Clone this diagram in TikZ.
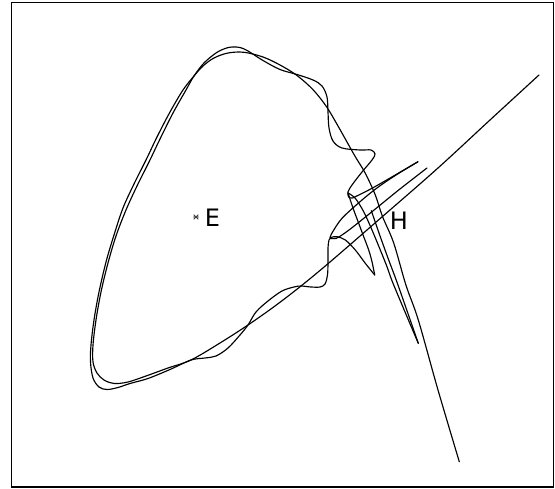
\documentclass[tikz,border=0pt]{standalone}
\usepackage{fontspec}
\usetikzlibrary{calc}
\newfontfamily\lblfont{DejaVu Sans}
\begin{document}
\begin{tikzpicture}[x=1pt,y=-1pt,
  manifold/.style={line width=1.15pt,line cap=round,line join=round},
  lbl/.style={font=\lblfont\fontsize{24}{24}\selectfont,inner sep=0pt},
  frame/.style={line width=1.8pt}]
\useasboundingbox (0,0) rectangle (555,489);
\draw[frame] (11.5,2.5) rectangle (553.5,487);
% marks
\coordinate (Hpt) at (382.5,216.5);
\coordinate (Ept) at (196,217);
\draw[line width=0.9pt,black!75] ($(Ept)+(-2.3,-2.3)$) -- ($(Ept)+(2.3,2.3)$)
  ($(Ept)+(-2.3,2.3)$) -- ($(Ept)+(2.3,-2.3)$) ($(Ept)+(-2.8,0)$) -- ($(Ept)+(2.8,0)$);
\node[lbl] (Elbl) at (212.5,218) {E};
\node[lbl] (Hlbl) at (399,221) {H};
% unstable manifold
\draw[manifold] plot[smooth,tension=0.55] coordinates {
 (539,75) (490,120) (438,168) (382.5,216.5) (330,262) (301,286) (275,306) (248,325) (220,343) (191,360)
 (168,368) (146,376) (128,382) (114,383.5) (104,380) (97,373) (93,362) (93,345) (96,320) (101,292)
 (108,263) (116,236) (126,210) (137,186) (149,162) (160,139) (173,113) (186,90) (194,76) (204,63)
 (216,53) (225,48.5) (232,47) (240,47.5) (248,51) (263,60.5) (280,69.5) (297,74.5) (313,80) (322,86)
 (327,97) (328,112) (329,128) (333,141) (342,148) (360,150) (371,150) (375,154) (372,160) (362,172)
 (352,185) (348,192) (348.7,197) (352,198) (355.3,196.7) (372,188.3) (395.3,175) (418,161.7)};
\draw[manifold] plot[smooth,tension=0.5] coordinates {
 (418,161.7) (398.7,173.3) (378.7,186.7) (362,200) (342,218.3) (332,233) (330,238)};
\draw[manifold] plot[smooth,tension=0.5] coordinates {
 (330,238) (336,238.5) (349,230) (372,211.7) (398.7,190) (427,168)};
% stable manifold
\draw[manifold] plot[smooth,tension=0.55] coordinates {
 (459.3,461.7) (438,390) (418.3,320) (405.9,285) (393.7,243) (382.5,216.5) (375.3,195) (365.3,173.3)
 (355.3,156.7) (347,142) (338,126) (326.7,107) (313.3,90) (297,75.5) (280,65) (263,57) (244,52.3)
 (228,53) (214,58) (203,66) (194,76) (183,90) (170,112) (157,137) (146,160) (134,184) (123,208)
 (114,235) (106,262) (99,292) (94,320) (91,345) (90.5,362) (93,378) (99,387) (107,389.5) (118,387.5)
 (130,383.5) (148,378.5) (170,369.5) (191,360) (205,358) (216,356) (228,348) (240,335) (248,325)
 (256,312) (268,301) (282,291) (294,287) (301,286) (311,287) (320,287) (325,284) (327.5,275)
 (328,262) (328,248) (329,240) (331,237.5) (337,236.7) (345.3,240) (355.3,250) (365.3,263.3) (374.7,275)};
\draw[manifold] plot[smooth,tension=0.5] coordinates {
 (374.7,275) (372,261.7) (368.7,250) (363.7,236.7) (358.7,223.3) (353.7,210) (350.3,200) (348,193)};
\draw[manifold] plot[smooth,tension=0.5] coordinates {
 (348,193) (355.3,198.3) (363.7,211.7) (372,230) (380.3,250) (387,266.7) (393.7,285) (418.3,343.3)};
\draw[manifold] plot[smooth,tension=0.5] coordinates {
 (418.3,343.3) (398,285) (388.7,260) (380.3,236.7) (371.3,210.7)};
\end{tikzpicture}
\end{document}
